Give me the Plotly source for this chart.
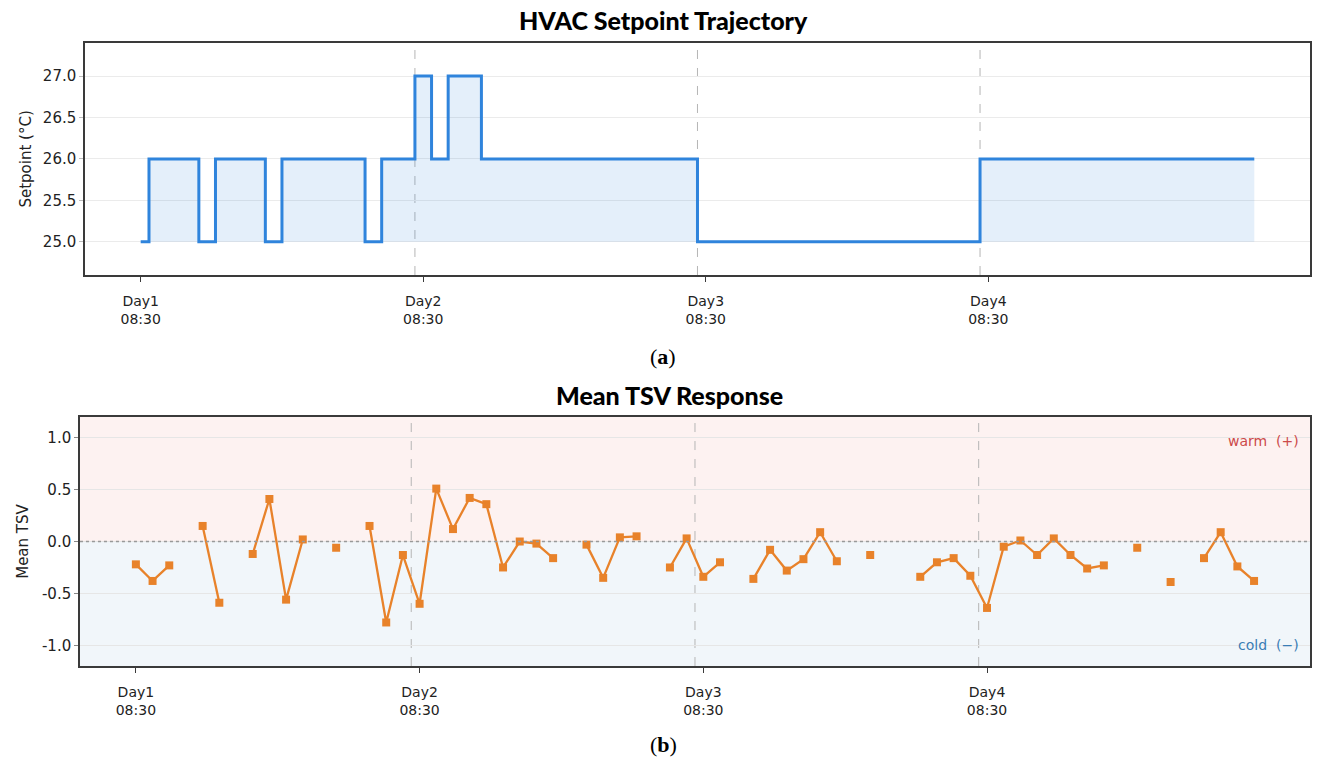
import plotly.graph_objects as go

# ---------------- data ----------------
session_idx = list(range(68))
day_tick_vals = [0, 17, 34, 51]
day_tick_text = ["Day1<br>08:30", "Day2<br>08:30", "Day3<br>08:30", "Day4<br>08:30"]

setpoint = [25, 26, 26, 26, 25, 26, 26, 26, 25, 26, 26, 26, 26, 26, 25, 26, 26,
            27, 26, 27, 27, 26, 26, 26, 26, 26, 26, 26, 26, 26, 26, 26, 26, 26,
            25, 25, 25, 25, 25, 25, 25, 25, 25, 25, 25, 25, 25, 25, 25, 25, 25,
            26, 26, 26, 26, 26, 26, 26, 26, 26, 26, 26, 26, 26, 26, 26, 26, 26]

mean_tsv = [-0.22, -0.38, -0.23, None, 0.15, -0.59, None, -0.12, 0.41, -0.56, 0.02, None,
            -0.06, None, 0.15, -0.78, -0.13, -0.60, 0.51, 0.12, 0.42, 0.36, -0.25, 0.00,
            -0.02, -0.16, None, -0.03, -0.35, 0.04, 0.05, None, -0.25, 0.03, -0.34, -0.20,
            None, -0.36, -0.08, -0.28, -0.17, 0.09, -0.19, None, -0.13, None, None, -0.34,
            -0.20, -0.16, -0.33, -0.64, -0.05, 0.01, -0.13, 0.03, -0.13, -0.26, -0.23, None,
            -0.06, None, -0.39, None, -0.16, 0.09, -0.24, -0.38]

sp_ticks = [25.0, 25.5, 26.0, 26.5, 27.0]
tsv_ticks = [-1.0, -0.5, 0.0, 0.5, 1.0]
tsv_tick_text = ["-1.0", "-0.5", "0.0", "0.5", "1.0"]

# ---------------- styles ----------------
BLUE = "#2f84dc"
ORANGE = "#e8822a"
FRAME = "#3a3a3a"
GRID = "#ebebeb"
TICKFONT = dict(family="DejaVu Sans", size=14, color="#222")
YTICKFONT = dict(family="DejaVu Sans", size=15, color="#222")
AXTITLEFONT = dict(family="DejaVu Sans", size=15, color="#222")

fig = go.Figure()

# baseline for fill
fig.add_trace(go.Scatter(x=[session_idx[0], session_idx[-1]], y=[25, 25], mode="lines",
                         line=dict(width=0, color="rgba(0,0,0,0)"), hoverinfo="skip",
                         showlegend=False, xaxis="x", yaxis="y"))
fig.add_trace(go.Scatter(x=session_idx, y=setpoint, mode="lines",
                         line=dict(color=BLUE, width=3, shape="hvh"),
                         fill="tonexty", fillcolor="rgba(47,132,220,0.13)",
                         showlegend=False, xaxis="x", yaxis="y"))

fig.add_trace(go.Scatter(x=session_idx, y=mean_tsv, mode="lines+markers",
                         line=dict(color=ORANGE, width=2.3),
                         marker=dict(symbol="square", size=8, color=ORANGE),
                         connectgaps=False, showlegend=False, xaxis="x2", yaxis="y2"))

xrange = [-3.35, 70.35]
common_x = dict(range=xrange, tickmode="array", tickvals=day_tick_vals, ticktext=day_tick_text,
                showgrid=False, zeroline=False, showline=True, linecolor=FRAME, linewidth=1.5,
                mirror=True, ticks="outside", ticklen=5, tickcolor=FRAME, tickfont=TICKFONT,
                ticklabelstandoff=7)

fig.update_layout(
    width=1324, height=766,
    margin=dict(l=0, r=0, t=0, b=0),
    paper_bgcolor="white", plot_bgcolor="white",
    xaxis=dict(domain=[0.0642, 0.9894], anchor="y", **common_x),
    yaxis=dict(domain=[0.641, 0.944], anchor="x", range=[24.6, 27.4],
               tickmode="array", tickvals=sp_ticks, ticktext=[f"{v:.1f}" for v in sp_ticks],
               showgrid=True, gridcolor=GRID, gridwidth=1, zeroline=False,
               showline=True, linecolor=FRAME, linewidth=1.5, mirror=True,
               ticks="outside", ticklen=4, tickcolor="#bbb", tickfont=YTICKFONT,
               title=dict(text="Setpoint (°C)", font=AXTITLEFONT, standoff=8)),
    xaxis2=dict(domain=[0.0604, 0.9894], anchor="y2", **common_x),
    yaxis2=dict(domain=[0.1305, 0.4556], anchor="x2", range=[-1.2, 1.2],
                tickmode="array", tickvals=tsv_ticks, ticktext=tsv_tick_text,
                showgrid=True, gridcolor="#e6e6e6", gridwidth=1, zeroline=False,
                showline=True, linecolor=FRAME, linewidth=1.5, mirror=True,
                ticks="outside", ticklen=4, tickcolor="#888", tickfont=YTICKFONT,
                title=dict(text="Mean TSV", font=AXTITLEFONT, standoff=10)),
)

shapes = []
# background zones for TSV panel
shapes.append(dict(type="rect", xref="x2 domain", yref="y2", x0=0, x1=1, y0=0, y1=1.2,
                   fillcolor="rgba(231,76,60,0.07)", line=dict(width=0), layer="below"))
shapes.append(dict(type="rect", xref="x2 domain", yref="y2", x0=0, x1=1, y0=-1.2, y1=0,
                   fillcolor="rgba(52,130,190,0.07)", line=dict(width=0), layer="below"))
shapes.append(dict(type="line", xref="x2 domain", yref="y2", x0=0, x1=1, y0=0, y1=0,
                   line=dict(color="#999", width=1.5, dash="dot"), layer="above"))
# day boundaries
for t in day_tick_vals[1:]:
    b = t - 0.5
    shapes.append(dict(type="line", xref="x", yref="y domain", x0=b, x1=b, y0=0, y1=1,
                       line=dict(color="#b5b5b5", width=1, dash="dash"), layer="below"))
    shapes.append(dict(type="line", xref="x2", yref="y2 domain", x0=b, x1=b, y0=0, y1=1,
                       line=dict(color="#b5b5b5", width=1, dash="dash"), layer="below"))
fig.update_layout(shapes=shapes)

TITLEFONT = dict(family="Lato", size=25, color="#000", weight=900)
annotations = [
    dict(text="HVAC Setpoint Trajectory", x=663 / 1324, y=1 - 20 / 766, xref="paper", yref="paper",
         showarrow=False, font=TITLEFONT, xanchor="center", yanchor="middle"),
    dict(text="Mean TSV Response", x=670 / 1324, y=1 - 395 / 766, xref="paper", yref="paper",
         showarrow=False, font=TITLEFONT, xanchor="center", yanchor="middle"),
    dict(text="(<b>a</b>)", x=663 / 1324, y=1 - 356 / 766, xref="paper", yref="paper",
         showarrow=False, font=dict(family="Liberation Serif", size=22, color="#000"), xanchor="center", yanchor="middle"),
    dict(text="(<b>b</b>)", x=663 / 1324, y=1 - 744 / 766, xref="paper", yref="paper",
         showarrow=False, font=dict(family="Liberation Serif", size=22, color="#000"), xanchor="center", yanchor="middle"),
    dict(text="warm  (+)", x=0.993, y=0.97, xref="x2 domain", yref="y2", showarrow=False,
         xanchor="right", yanchor="middle", font=dict(family="DejaVu Sans", size=14, color="#cc4a4a")),
    dict(text="cold  (\u2212)", x=0.993, y=-1.0, xref="x2 domain", yref="y2", showarrow=False,
         xanchor="right", yanchor="middle", font=dict(family="DejaVu Sans", size=14, color="#3a7db5")),
]
fig.update_layout(annotations=annotations)

fig.write_html("out.html")
